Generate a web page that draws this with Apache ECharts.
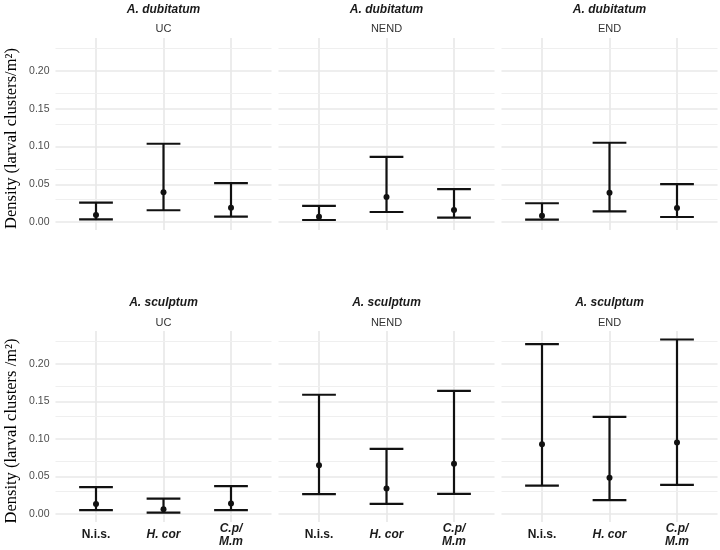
<!DOCTYPE html>
<html>
<head>
<meta charset="utf-8">
<script src="https://cdn.jsdelivr.net/npm/echarts@6/dist/echarts.min.js"></script>
<style>
  html, body { margin: 0; padding: 0; background: #fff; }
  #chart { width: 720px; height: 550px; }
</style>
</head>
<body>
<div id="chart"></div>
<script>
// categories and panels
const categories = ['N.i.s.', 'H. cor', 'C.p/M.m'];
const species = ['A. dubitatum', 'A. sculptum'];
const treatments = ['UC', 'NEND', 'END'];
const yTitles = ['Density (larval clusters/m²)', 'Density (larval clusters /m²)'];

// A. dubitatum: one array per treatment (UC, NEND, END), values per category
const dubitatumMean = [[0.0093, 0.0396, 0.0190], [0.0071, 0.0333, 0.0160], [0.0084, 0.0387, 0.0187]];
const dubitatumLow  = [[0.0036, 0.0156, 0.0071], [0.0027, 0.0133, 0.0058], [0.0031, 0.0142, 0.0067]];
const dubitatumHigh = [[0.0257, 0.1036, 0.0516], [0.0213, 0.0862, 0.0436], [0.0249, 0.1049, 0.0502]];

// A. sculptum
const sculptumMean = [[0.0133, 0.0066, 0.0141], [0.0651, 0.0340, 0.0669], [0.0930, 0.0483, 0.0952]];
const sculptumLow  = [[0.0053, 0.0021, 0.0053], [0.0266, 0.0137, 0.0270], [0.0380, 0.0186, 0.0390]];
const sculptumHigh = [[0.0359, 0.0207, 0.0372], [0.1587, 0.0868, 0.1640], [0.2260, 0.1294, 0.2322]];

// gridline positions
const yMajor = [0, 0.05, 0.10, 0.15, 0.20];
const yMinor = [0.025, 0.075, 0.125, 0.175, 0.225];
const yMin = -0.0105;
const yMax = 0.2435;

const means = [dubitatumMean, sculptumMean];
const lows = [dubitatumLow, sculptumLow];
const highs = [dubitatumHigh, sculptumHigh];

const font = 'Liberation Sans, Arial, Helvetica, sans-serif';
const colLeft = [55.5, 278.5, 501.5];
const panelWidth = 216;
const rowTop = [38, 331];
const rowHeight = [192, 191];
const titleY = [8, 301];
const subY = [28, 322];

const grids = [], xAxes = [], yAxes = [], series = [], titles = [];

function renderErrorBar(params, api) {
    const x = api.value(0);
    const lo = api.value(1);
    const hi = api.value(2);
    const top = api.coord([x, hi]);
    const bot = api.coord([x, lo]);
    const l = api.coord([x - 0.25, hi])[0];
    const r = api.coord([x + 0.25, hi])[0];
    const style = { stroke: '#111', lineWidth: 2.2 };
    return {
        type: 'group',
        children: [
            { type: 'line', shape: { x1: top[0], y1: top[1], x2: bot[0], y2: bot[1] }, style },
            { type: 'line', shape: { x1: l, y1: top[1], x2: r, y2: top[1] }, style },
            { type: 'line', shape: { x1: l, y1: bot[1], x2: r, y2: bot[1] }, style }
        ]
    };
}

function labelFor(v) {
    if (Math.abs(v - Math.round(v)) > 1e-6) return '';
    const i = Math.round(v) - 1;
    if (i === 0) return '{b|' + categories[0] + '}';
    if (i === 1) return '{i|' + categories[1] + '}';
    if (i === 2) {
        const parts = categories[2].split('/');
        return '{i|' + parts[0] + '/}\n{i|' + parts[1] + '}';
    }
    return '';
}

species.forEach((sp, row) => {
    treatments.forEach((tr, col) => {
        const idx = grids.length;
        grids.push({
            left: colLeft[col], top: rowTop[row],
            width: panelWidth, height: rowHeight[row]
        });
        xAxes.push({
            gridIndex: idx, type: 'value', min: 0.4, max: 3.6,
            axisLine: { show: false }, axisTick: { show: false },
            splitLine: { show: false },
            axisLabel: {
                show: row === 1, margin: 13, verticalAlign: 'middle',
                showMinLabel: false, showMaxLabel: false,
                formatter: labelFor,
                rich: {
                    b: { fontFamily: font, fontSize: 12, fontWeight: 'bold', color: '#1a1a1a', lineHeight: 13 },
                    i: { fontFamily: font, fontSize: 12, fontWeight: 'bold', fontStyle: 'italic', color: '#1a1a1a', lineHeight: 13 }
                }
            }
        });
        yAxes.push({
            gridIndex: idx, type: 'value', min: yMin, max: yMax,
            axisLine: { show: false }, axisTick: { show: false },
            splitLine: { show: false },
            name: col === 0 ? yTitles[row] : '',
            nameLocation: 'middle', nameGap: 35,
            nameTextStyle: {
                fontFamily: 'Liberation Serif, Times New Roman, serif', fontSize: 16.5, color: '#000',
                padding: [0, 9, 0, 0]
            },
            axisLabel: {
                show: col === 0, margin: 6,
                showMinLabel: false, showMaxLabel: false,
                fontFamily: font, fontSize: 10.5, color: '#4d4d4d',
                formatter: v => {
                    const k = v / 0.05;
                    return Math.abs(k - Math.round(k)) < 1e-6 ? v.toFixed(2) : '';
                }
            }
        });
        const cx = colLeft[col] + panelWidth / 2;
        titles.push({
            text: sp, left: cx, top: titleY[row] - 4, textAlign: 'center', padding: 0,
            textStyle: { fontFamily: font, fontSize: 12, fontWeight: 'bold', fontStyle: 'italic', color: '#1a1a1a' }
        });
        titles.push({
            text: tr, left: cx, top: subY[row] - 5, textAlign: 'center', padding: 0,
            textStyle: { fontFamily: font, fontSize: 11, fontWeight: 'normal', color: '#333' }
        });

        const barData = categories.map((c, i) => [i + 1, lows[row][col][i], highs[row][col][i]]);
        const pointData = categories.map((c, i) => [i + 1, means[row][col][i]]);

        const gridLines = [];
        categories.forEach((c, i) => gridLines.push({ xAxis: i + 1, lineStyle: { color: '#e8e8e8', width: 1.6, type: 'solid' } }));
        yMajor.forEach(v => gridLines.push({ yAxis: v, lineStyle: { color: '#e8e8e8', width: 1.6, type: 'solid' } }));
        yMinor.forEach(v => gridLines.push({ yAxis: v, lineStyle: { color: '#efefef', width: 1, type: 'solid' } }));

        series.push({
            type: 'custom', xAxisIndex: idx, yAxisIndex: idx,
            renderItem: renderErrorBar,
            encode: { x: 0, y: [1, 2] },
            data: barData, z: 3, silent: true, animation: false,
            markLine: {
                z: 1, silent: true, symbol: 'none', animation: false,
                label: { show: false },
                data: gridLines
            }
        });
        series.push({
            type: 'scatter', xAxisIndex: idx, yAxisIndex: idx,
            data: pointData, symbolSize: 6, z: 4,
            itemStyle: { color: '#111', opacity: 1 },
            silent: true, animation: false
        });
    });
});

const chart = echarts.init(document.getElementById('chart'));
chart.setOption({
    backgroundColor: '#fff',
    animation: false,
    title: titles,
    grid: grids,
    xAxis: xAxes,
    yAxis: yAxes,
    series: series
});
</script>
</body>
</html>
